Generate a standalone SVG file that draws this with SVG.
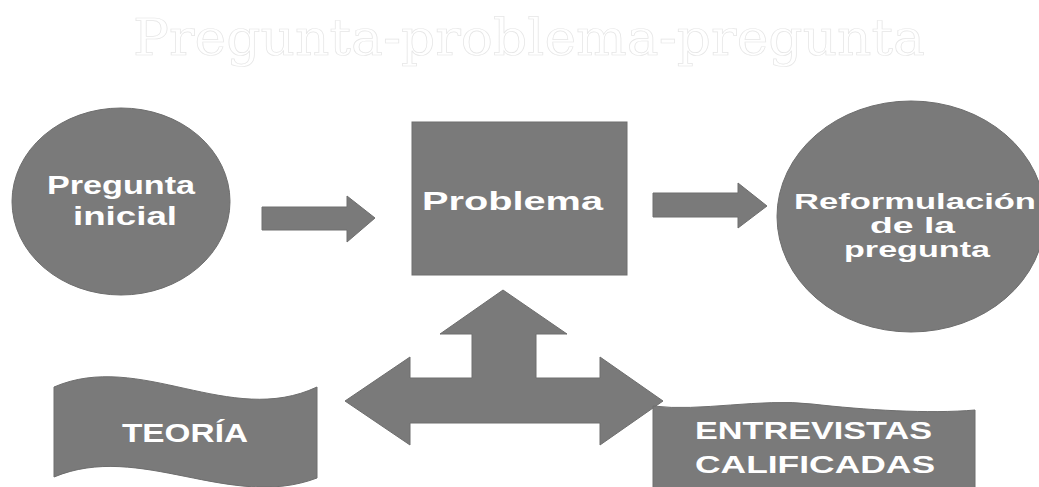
<svg xmlns="http://www.w3.org/2000/svg" width="1039" height="487" viewBox="0 0 1039 487">
<style>
.shape{fill:#7a7a7a;stroke:#6e6e6e;stroke-width:1}
.lbl{fill:#ffffff;font-family:"Liberation Sans",Arial,sans-serif;font-weight:bold}
.title{fill:#ffffff;stroke:#e6e6e6;stroke-width:0.7;font-family:"DejaVu Serif","Liberation Serif",serif;font-size:50px}
</style>
<rect width="1039" height="487" fill="#ffffff"/>
<g id="title">
<text class="title" x="133" y="55" textLength="792" lengthAdjust="spacingAndGlyphs">Pregunta-problema-pregunta</text>
</g>
<g id="connectors">
<path class="shape" d="M262,207 H347 V196 L375,218 L347,242 V230 H262 Z"/>
<path class="shape" d="M653,193 H738 V183 L767,206 L738,228 V217 H653 Z"/>
<path class="shape" d="M503,290 L567,334 H536 V378 H600 V357 L663,401 L600,445 V423 H410 V445 L345,401 L410,357 V378 H472 V334 H440 Z"/>
</g>
<g id="pregunta-inicial">
<ellipse class="shape" cx="121" cy="201.5" rx="109" ry="93.5"/>
<text class="lbl" x="47" y="194" font-size="25" textLength="148" lengthAdjust="spacingAndGlyphs">Pregunta</text>
<text class="lbl" x="73" y="225" font-size="25" textLength="104" lengthAdjust="spacingAndGlyphs">inicial</text>
</g>
<g id="problema">
<rect class="shape" x="412" y="122" width="215" height="153"/>
<text class="lbl" x="422" y="210" font-size="25.5" textLength="181" lengthAdjust="spacingAndGlyphs">Problema</text>
</g>
<g id="reformulacion">
<ellipse class="shape" cx="911" cy="216.5" rx="134" ry="115.5"/>
<text class="lbl" x="794" y="209" font-size="21.5" textLength="242" lengthAdjust="spacingAndGlyphs">Reformulación</text>
<text class="lbl" x="870" y="233" font-size="21.5" textLength="85" lengthAdjust="spacingAndGlyphs">de la</text>
<text class="lbl" x="844" y="257" font-size="21.5" textLength="146" lengthAdjust="spacingAndGlyphs">pregunta</text>
</g>
<g id="teoria">
<path class="shape" d="M54,387 C140,350 230,428 317,387 V478 C230,511 140,441 54,477 Z"/>
<text class="lbl" x="122" y="442" font-size="26" textLength="126" lengthAdjust="spacingAndGlyphs">TEORÍA</text>
</g>
<g id="entrevistas">
<path class="shape" d="M653,406 C700,412 760,398 812,404 S930,414 975,410 V492 H653 Z"/>
<text class="lbl" x="695" y="439" font-size="24.5" textLength="237" lengthAdjust="spacingAndGlyphs">ENTREVISTAS</text>
<text class="lbl" x="695" y="473" font-size="24.5" textLength="240" lengthAdjust="spacingAndGlyphs">CALIFICADAS</text>
</g>
</svg>
